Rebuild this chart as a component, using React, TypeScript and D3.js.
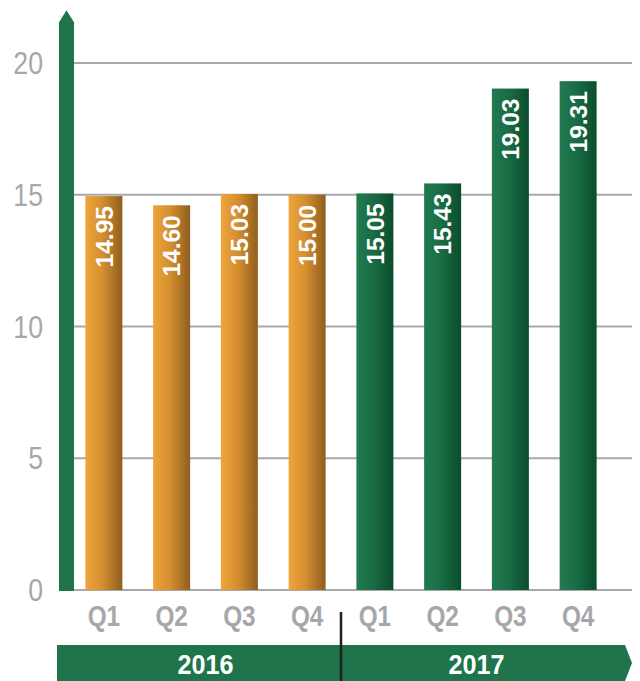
import React from "react";
import * as d3 from "d3";

const years = ["2016", "2017"];
const quarters = ["Q1", "Q2", "Q3", "Q4", "Q1", "Q2", "Q3", "Q4"];
const barYears = ["2016", "2016", "2016", "2016", "2017", "2017", "2017", "2017"];
const values = [14.95, 14.6, 15.03, 15.0, 15.05, 15.43, 19.03, 19.31];
const yTicks = [0, 5, 10, 15, 20];

const W = 640;
const H = 681;
const SANS = "'Liberation Sans', Arial, sans-serif";

function NarrowText(props: {
  x: number;
  y: number;
  anchor: "start" | "middle" | "end";
  size: number;
  sx: number;
  bold?: boolean;
  fill: string;
  dy?: string;
  children: React.ReactNode;
}) {
  return (
    <text
      transform={`translate(${props.x},${props.y}) scale(${props.sx},1)`}
      dy={props.dy}
      textAnchor={props.anchor}
      fontFamily={SANS}
      fontWeight={props.bold ? "bold" : "normal"}
      fontSize={props.size}
      fill={props.fill}
    >
      {props.children}
    </text>
  );
}

export default function App() {
  const ids = values.map((_, i) => String(i));
  const x = d3.scaleBand<string>().domain(ids).range([70, 612]).paddingInner(0.454).paddingOuter(0.227);
  const y = d3.scaleLinear().domain([0, 20]).range([590, 63]);
  const bw = x.bandwidth();

  const axisLeft = 59;
  const axisRight = 74;
  const axisTop = y(22);
  const gridRight = 632;

  const yearCenters = years.map((yr) => {
    const idx = barYears.map((b, i) => (b === yr ? i : -1)).filter((i) => i >= 0);
    const c0 = (x(String(idx[0])) as number) + bw / 2;
    const c1 = (x(String(idx[idx.length - 1])) as number) + bw / 2;
    return (c0 + c1) / 2;
  });
  const dividerX = ((x("3") as number) + bw + (x("4") as number)) / 2;

  const bandTop = 645;
  const bandBot = 681;
  const bandLeft = 57;
  const bandMid = (bandTop + bandBot) / 2;

  return (
    <svg width={W} height={H} style={{ position: "absolute", left: 0, top: 0 }}>
      <defs>
        <linearGradient id="gOrange" x1="0" x2="1" y1="0" y2="0">
          <stop offset="0%" stopColor="#f0a43a" />
          <stop offset="45%" stopColor="#d58f30" />
          <stop offset="100%" stopColor="#8f5e1f" />
        </linearGradient>
        <linearGradient id="gGreen" x1="0" x2="1" y1="0" y2="0">
          <stop offset="0%" stopColor="#237a50" />
          <stop offset="45%" stopColor="#1a6c44" />
          <stop offset="100%" stopColor="#0a4d2d" />
        </linearGradient>
      </defs>

      {/* gridlines */}
      {yTicks.map((t) => (
        <line key={t} x1={axisRight} x2={gridRight} y1={y(t)} y2={y(t)} stroke="#a9a9ad" strokeWidth={2} />
      ))}

      {/* y tick labels */}
      {yTicks.map((t) => (
        <NarrowText key={"l" + t} x={43} y={y(t)} dy="0.36em" anchor="end" size={31} sx={0.86} fill="#a7a7aa">
          {t}
        </NarrowText>
      ))}

      {/* y axis arrow bar */}
      <polygon
        points={`${axisLeft},${y(0) + 1} ${axisLeft},${axisTop + 12} ${(axisLeft + axisRight) / 2},${axisTop} ${axisRight},${axisTop + 12} ${axisRight},${y(0) + 1}`}
        fill="#1f744a"
      />

      {/* bars */}
      {values.map((v, i) => {
        const bx = x(String(i)) as number;
        return (
          <g key={"b" + i}>
            <rect
              x={bx}
              y={y(v)}
              width={bw}
              height={y(0) - y(v)}
              fill={barYears[i] === "2016" ? "url(#gOrange)" : "url(#gGreen)"}
            />
            <text
              transform={`translate(${bx + bw / 2},${y(v) + 10}) rotate(-90)`}
              dy="0.36em"
              textAnchor="end"
              fontFamily={SANS}
              fontWeight="bold"
              fontSize={24.5}
              fill="#ffffff"
            >
              {v.toFixed(2)}
            </text>
            <NarrowText x={bx + bw / 2} y={626} anchor="middle" size={29} sx={0.84} bold fill="#a7a7aa">
              {quarters[i]}
            </NarrowText>
          </g>
        );
      })}

      {/* bottom band */}
      <polygon
        points={`${bandLeft},${bandTop} ${gridRight - 7},${bandTop} ${gridRight},${bandMid} ${gridRight - 7},${bandBot} ${bandLeft},${bandBot}`}
        fill="#20744b"
      />
      {years.map((yr, i) => (
        <NarrowText key={yr} x={yearCenters[i]} y={bandMid + 0.5} dy="0.36em" anchor="middle" size={28} sx={0.9} bold fill="#ffffff">
          {yr}
        </NarrowText>
      ))}
      <line x1={dividerX} x2={dividerX} y1={612} y2={H} stroke="#231f20" strokeWidth={2.5} />
    </svg>
  );
}
